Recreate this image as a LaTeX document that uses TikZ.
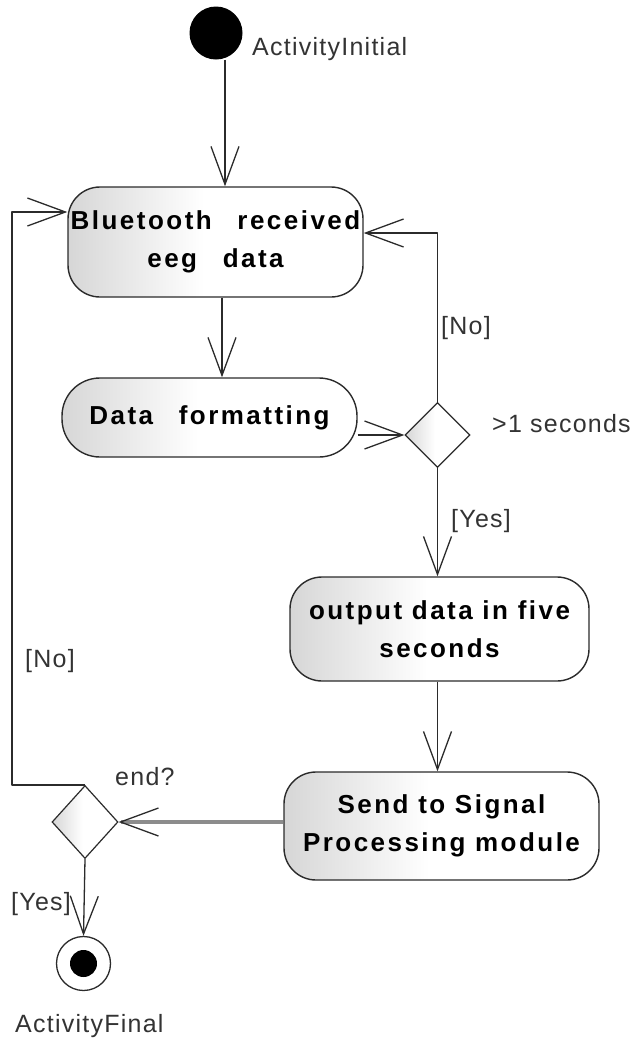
\documentclass[tikz,border=0pt]{standalone}
\usepackage{fontspec}
\setmainfont{Liberation Sans}
\newfontfamily\boxfont{Liberation Sans}[LetterSpace=9.5]
\newfontfamily\lblfont{Liberation Sans}[LetterSpace=5]
\usetikzlibrary{arrows.meta,shapes.geometric}
\pgfdeclarehorizontalshading{fade}{100bp}{color(0bp)=(black!16); color(25bp)=(black!16); color(48bp)=(white); color(100bp)=(white)}
\definecolor{ln}{HTML}{2B2B2B}
\definecolor{lbl}{HTML}{333333}
\begin{document}
\begin{tikzpicture}[x=1pt,y=-1pt,
  act/.style={draw=ln, line width=1.4pt, rounded corners=32pt, shade, shading=fade, inner sep=0pt, align=center,
    font=\boxfont\bfseries\fontsize{26}{38}\selectfont, text=black},
  dec/.style={diamond, draw=ln, line width=1.2pt, shade, shading=fade, inner sep=0pt},
  arr/.style={draw=ln, line width=1.3pt, line join=round, -{Straight Barb[length=38pt,width=28pt,line width=1.3pt]}},
  thk/.style={draw=black!45, line width=3.5pt, -{Straight Barb[length=38pt,width=28pt,line width=1.3pt,color=ln]}},
  lab/.style={font=\lblfont\fontsize{25}{30}\selectfont, text=lbl, inner sep=0pt},
]
\useasboundingbox (0,0) rectangle (631,1039);
\node[circle, fill=black, minimum size=53pt, inner sep=0pt] (init) at (216,33) {};
\node[lab, anchor=base west] (initlbl) at (252,55) {ActivityInitial};
\node[act, minimum width=295pt, minimum height=110pt] (bt) at (215.5,242) {Bluetooth\hspace{16pt} received\\eeg\hspace{16pt} data};
\node[act, rounded corners=38pt, minimum width=295pt, minimum height=79pt] (df) at (209.5,417.5) {Data\hspace{16pt} formatting};
\node[dec, minimum width=65pt, minimum height=65pt] (d1) at (437.5,435) {};
\node[lab, anchor=base west] (d1lbl) at (492,432) {>1 seconds};
\node[act, minimum width=299pt, minimum height=104pt] (out) at (439.5,629) {output data in five\\seconds};
\node[act, minimum width=315pt, minimum height=108pt] (send) at (441.5,826) {Send to Signal\\Processing module};
\node[dec, minimum width=66pt, minimum height=73pt] (d2) at (85,822) {};
\node[lab, anchor=base west] (d2lbl) at (115,785) {end?};
\node[circle, draw=ln, line width=1.3pt, fill=white, minimum size=54pt, inner sep=0pt] (final) at (83.5,963.5) {};
\node[circle, fill=black, minimum size=27pt, inner sep=0pt] (finaldot) at (final.center) {};
\node[lab, anchor=base west] (finallbl) at (15,1032) {ActivityFinal};
\node[lab] (no1) at (466,328) {[No]};
\node[lab] (yes1) at (481,521) {[Yes]};
\node[lab] (no2) at (50,661) {[No]};
\node[lab] (yes2) at (41,904) {[Yes]};
\draw[arr] ([xshift=9pt]init.south) -- ([xshift=9pt]init.south |- bt.north);
\draw[arr] ([xshift=6.5pt]bt.south) -- ([xshift=6.5pt]bt.south |- df.north);
\draw[arr] (df.east |- d1.west) -- (d1.west);
\draw[arr] (d1.north) |- ([yshift=9pt]bt.east);
\draw[arr] (d1.south) -- (d1.south |- out.north);
\draw[arr] (out.south -| d1.south) -- (d1.south |- send.north);
\draw[thk] (send.west |- d2.east) -- (d2.east);
\draw[arr] (d2.north) -- ++(-73,0) |- ([yshift=30pt]bt.west);
\draw[arr] (d2.south) -- (final.north);
\end{tikzpicture}
\end{document}
